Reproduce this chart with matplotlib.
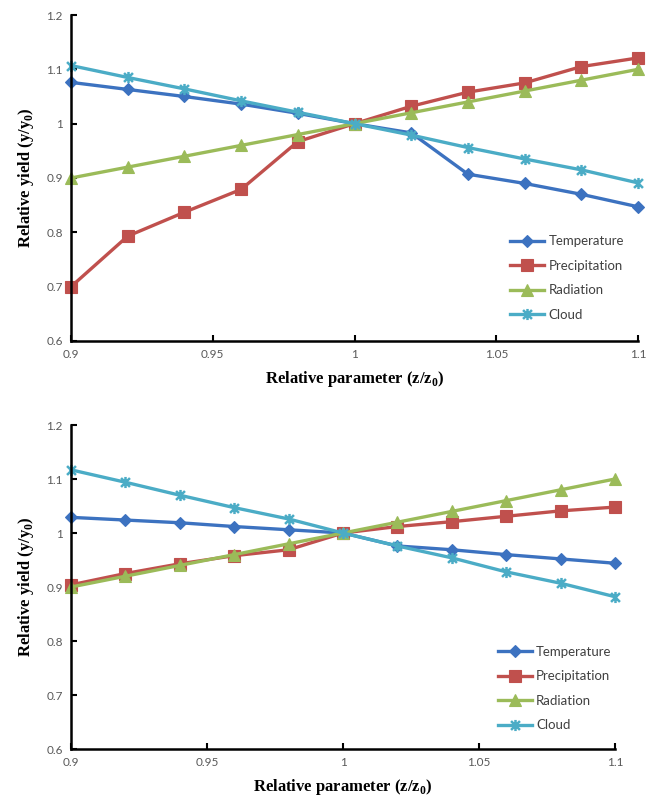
import matplotlib
matplotlib.use("Agg")
import matplotlib.pyplot as plt
from matplotlib.ticker import FuncFormatter, FixedLocator
from matplotlib.path import Path

plt.rcParams['mathtext.fontset'] = 'custom'
plt.rcParams['mathtext.rm'] = 'Liberation Serif:bold'
plt.rcParams['mathtext.bf'] = 'Liberation Serif:bold'

x = [0.90, 0.92, 0.94, 0.96, 0.98, 1.00, 1.02, 1.04, 1.06, 1.08, 1.10]

# Top panel
top_temperature = [1.076, 1.063, 1.050, 1.036, 1.019, 1.000, 0.983, 0.907, 0.890, 0.870, 0.847]
top_precipitation = [0.700, 0.793, 0.837, 0.879, 0.967, 1.000, 1.032, 1.058, 1.075, 1.105, 1.121]
top_radiation = [0.900, 0.920, 0.940, 0.960, 0.980, 1.000, 1.020, 1.040, 1.060, 1.080, 1.100]
top_cloud = [1.107, 1.085, 1.064, 1.042, 1.021, 1.000, 0.979, 0.956, 0.935, 0.915, 0.891]

# Bottom panel
bot_temperature = [1.029, 1.024, 1.019, 1.012, 1.006, 1.000, 0.976, 0.969, 0.960, 0.952, 0.944]
bot_precipitation = [0.904, 0.925, 0.943, 0.958, 0.969, 1.000, 1.012, 1.021, 1.031, 1.041, 1.048]
bot_radiation = [0.900, 0.920, 0.940, 0.960, 0.980, 1.000, 1.020, 1.040, 1.060, 1.080, 1.100]
bot_cloud = [1.117, 1.094, 1.070, 1.047, 1.026, 1.000, 0.976, 0.954, 0.928, 0.907, 0.882]

series_names = ["Temperature", "Precipitation", "Radiation", "Cloud"]
x_ticks = [0.9, 0.95, 1.0, 1.05, 1.1]
y_ticks = [0.6, 0.7, 0.8, 0.9, 1.0, 1.1, 1.2]

# Excel-like star marker: an x with a vertical bar
star = Path([(-1, -1), (1, 1), (-1, 1), (1, -1), (0, -1.25), (0, 1.25)],
            [Path.MOVETO, Path.LINETO, Path.MOVETO, Path.LINETO, Path.MOVETO, Path.LINETO])

colors = ["#3C72C0", "#C0504D", "#9BBB59", "#4BACC6"]
markers = ["D", "s", "^", star]
msizes = [6, 8, 8, 8]

fig = plt.figure(figsize=(6.48, 7.98), dpi=100)
ax1 = fig.add_axes([0.1096, 0.5727, 0.875, 0.4085])
ax2 = fig.add_axes([0.1096, 0.0614, 0.8395, 0.406])

fmt = FuncFormatter(lambda v, p: ('%.2f' % v).rstrip('0').rstrip('.'))

def draw(ax, data, leg_anchor):
    for vals, name, c, m, ms in zip(data, series_names, colors, markers, msizes):
        ax.plot(x, vals, color=c, marker=m, markersize=ms, linewidth=2.4,
                markeredgewidth=1.8 if m is star else 0.8,
                markeredgecolor=c, label=name, clip_on=False)
    ax.set_xlim(0.9, 1.1)
    ax.set_ylim(0.6, 1.2)
    ax.xaxis.set_major_locator(FixedLocator(x_ticks))
    ax.yaxis.set_major_locator(FixedLocator(y_ticks))
    ax.xaxis.set_major_formatter(fmt)
    ax.yaxis.set_major_formatter(fmt)
    for s in ['top', 'right']:
        ax.spines[s].set_visible(False)
    for s in ['left', 'bottom']:
        ax.spines[s].set_linewidth(1.8)
        ax.spines[s].set_color('black')
    ax.tick_params(direction='in', length=4, width=1.5, labelsize=8.5,
                   labelcolor='#595959', pad=6)
    for lab in ax.get_xticklabels() + ax.get_yticklabels():
        lab.set_family('Lato')
    ax.set_xlabel(r"Relative parameter (z/z$_\mathrm{0}$)", family='Liberation Serif',
                  fontweight='bold', fontsize=12, labelpad=6)
    ax.set_ylabel(r"Relative yield (y/y$_\mathrm{0}$)", family='Liberation Serif',
                  fontweight='bold', fontsize=12, labelpad=7)
    leg = ax.legend(loc='upper left', bbox_to_anchor=leg_anchor, frameon=False,
                    prop={'family': 'Lato', 'size': 9.5}, handlelength=2.6,
                    handletextpad=0.3, labelspacing=0.95, borderaxespad=0)
    for t in leg.get_texts():
        t.set_color('#404040')

draw(ax1, [top_temperature, top_precipitation, top_radiation, top_cloud], (0.765, 0.34))
draw(ax2, [bot_temperature, bot_precipitation, bot_radiation, bot_cloud], (0.775, 0.335))

fig.savefig("out.png", dpi=100)
